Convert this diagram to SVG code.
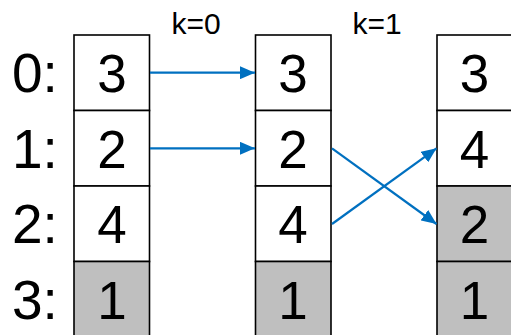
<svg xmlns="http://www.w3.org/2000/svg" width="511" height="335" viewBox="0 0 511 335">
  <style>
    .cell { fill: #ffffff; stroke: #000000; stroke-width: 1.6; }
    .cell.done { fill: #bfbfbf; }
    .num { font-family: "Liberation Sans", Arial, sans-serif; font-size: 53px; fill: #000000; text-anchor: middle; }
    .idx { font-family: "Liberation Sans", Arial, sans-serif; font-size: 55px; fill: #000000; }
    .step { font-family: "Liberation Sans", Arial, sans-serif; font-size: 30px; fill: #000000; text-anchor: middle; }
    .edge { stroke: #0070c0; stroke-width: 2.2; fill: none; marker-end: url(#arrow); }
  </style>
  <defs>
    <marker id="arrow" viewBox="0 0 15 13" refX="15" refY="6.5" markerWidth="15" markerHeight="13" markerUnits="userSpaceOnUse" orient="auto">
      <path d="M0,0 L15,6.5 L0,13 Z" fill="#0070c0"/>
    </marker>
  </defs>

  <rect width="511" height="335" fill="#ffffff"/>

  <!-- row indices -->
  <g id="indices">
    <text class="idx" x="12" y="92">0:</text>
    <text class="idx" x="12" y="167.5">1:</text>
    <text class="idx" x="12" y="243">2:</text>
    <text class="idx" x="12" y="318.5">3:</text>
  </g>

  <!-- step labels -->
  <g id="steps">
    <text class="step" x="196" y="34">k=0</text>
    <text class="step" x="377" y="34">k=1</text>
  </g>

  <!-- array state before k=0 -->
  <g id="array0">
    <rect class="cell" x="74" y="35" width="75.5" height="75.5"/>
    <rect class="cell" x="74" y="110.5" width="75.5" height="75.5"/>
    <rect class="cell" x="74" y="186" width="75.5" height="75.5"/>
    <rect class="cell done" x="74" y="261.5" width="75.5" height="80"/>
    <text class="num" x="112" y="92">3</text>
    <text class="num" x="112" y="167.5">2</text>
    <text class="num" x="112" y="243">4</text>
    <text class="num" x="112" y="318.5">1</text>
  </g>

  <!-- array state after k=0 -->
  <g id="array1">
    <rect class="cell" x="255.5" y="35" width="75.5" height="75.5"/>
    <rect class="cell" x="255.5" y="110.5" width="75.5" height="75.5"/>
    <rect class="cell" x="255.5" y="186" width="75.5" height="75.5"/>
    <rect class="cell done" x="255.5" y="261.5" width="75.5" height="80"/>
    <text class="num" x="293" y="92">3</text>
    <text class="num" x="293" y="167.5">2</text>
    <text class="num" x="293" y="243">4</text>
    <text class="num" x="293" y="318.5">1</text>
  </g>

  <!-- array state after k=1 -->
  <g id="array2">
    <rect class="cell" x="437" y="35" width="75.5" height="75.5"/>
    <rect class="cell" x="437" y="110.5" width="75.5" height="75.5"/>
    <rect class="cell done" x="437" y="186" width="75.5" height="75.5"/>
    <rect class="cell done" x="437" y="261.5" width="75.5" height="80"/>
    <text class="num" x="474.5" y="92">3</text>
    <text class="num" x="474.5" y="167.5">4</text>
    <text class="num" x="474.5" y="243">2</text>
    <text class="num" x="474.5" y="318.5">1</text>
  </g>

  <!-- connectors -->
  <g id="connectors">
    <line class="edge" x1="150" y1="72.7" x2="255" y2="72.7"/>
    <line class="edge" x1="150" y1="148.3" x2="255" y2="148.3"/>
    <line class="edge" x1="332" y1="148.3" x2="436.5" y2="224"/>
    <line class="edge" x1="332" y1="224" x2="436.5" y2="148.3"/>
  </g>
</svg>
